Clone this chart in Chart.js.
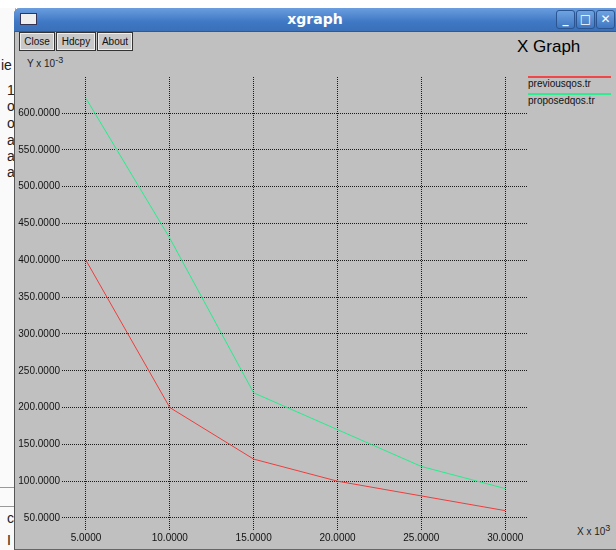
<!DOCTYPE html>
<html>
<head>
<meta charset="utf-8">
<script src="https://cdn.jsdelivr.net/npm/chart.js@4/dist/chart.umd.min.js"></script>
<style>
  html,body{margin:0;padding:0;width:616px;height:550px;overflow:hidden;background:#fff;font-family:"Liberation Sans",Arial,sans-serif;}
  #stage{position:relative;width:616px;height:550px;}
  .abs{position:absolute;}
  #bgwin{left:0;top:8px;width:15px;height:542px;background:#fafafa;border-right:1px solid #bbb;}
  .bgtxt{position:absolute;left:7px;font-size:14px;color:#222;}
  #win{left:14px;top:8px;width:602px;height:541px;background:#c0c0c0;border-left:1px solid #555;border-bottom:1px solid #666;border-top-left-radius:6px;}
  #titlebar{left:14px;top:8px;width:602px;height:23px;background:linear-gradient(#6a9ee0,#3f78c4 60%,#3a70b8);border-top-left-radius:6px;border-bottom:1px solid #2d5a96;}
  #titletext{left:14px;top:8px;width:602px;height:23px;line-height:23px;text-align:center;color:#fff;font-weight:bold;font-size:14px;font-family:"DejaVu Sans",sans-serif;}
  #icon{left:20px;top:13px;width:15px;height:10px;background:#eee;border:1px solid #335;}
  .wbtn{position:absolute;top:10px;width:17px;height:17px;border:1px solid #2a5590;border-radius:3px;background:linear-gradient(#6fa3e2,#3f77c0);color:#fff;font-weight:bold;font-size:12px;text-align:center;line-height:17px;font-family:"DejaVu Sans",sans-serif;}
  .btn{position:absolute;top:32px;height:17px;border:1px solid #333;box-shadow:inset 0 0 0 1px #eee;background:#c8c8c8;font-size:10px;line-height:17px;text-align:center;color:#111;}
  #ylab{left:27px;top:55px;font-size:10px;color:#222;}
  #xlab{left:577px;top:523px;font-size:10px;color:#222;}
  #gtitle{left:517px;top:37px;font-size:17px;color:#000;}
  .legline{position:absolute;left:528px;width:83px;height:2px;}
  .legtxt{position:absolute;left:528px;font-size:10px;color:#111;}
  canvas{position:absolute;left:0;top:0;}
</style>
</head>
<body>
<div id="stage">
  <div id="bgwin" class="abs"></div>
  <div class="bgtxt" style="top:57px;left:1px">ie</div>
  <div class="bgtxt" style="top:82px">1</div>
  <div class="bgtxt" style="top:98px">o</div>
  <div class="bgtxt" style="top:115px">o</div>
  <div class="bgtxt" style="top:132px">a</div>
  <div class="bgtxt" style="top:148px">a</div>
  <div class="bgtxt" style="top:164px">a</div>
  <div class="bgtxt" style="top:510px">c</div>
  <div class="bgtxt" style="top:532px">I</div>
  <div class="abs" style="left:0;top:487px;width:14px;height:18px;border:1px solid #999;border-left:none;"></div>
  <div id="win" class="abs"></div>
  <div id="titlebar" class="abs"></div>
  <div id="titletext" class="abs">xgraph</div>
  <div id="icon" class="abs"></div>
  <div class="wbtn" style="left:556px">_</div>
  <div class="wbtn" style="left:576px">□</div>
  <div class="wbtn" style="left:596px">✕</div>
  <div class="btn" style="left:19px;width:34px">Close</div>
  <div class="btn" style="left:56px;width:38px">Hdcpy</div>
  <div class="btn" style="left:97px;width:34px">About</div>
  <div id="ylab" class="abs">Y x 10<sup style="font-size:9px">-3</sup></div>
  <div id="xlab" class="abs">X x 10<sup style="font-size:9px">3</sup></div>
  <div id="gtitle" class="abs">X Graph</div>
  <div class="legline" style="top:76px;background:#f04848"></div>
  <div class="legtxt" style="top:78px">previousqos.tr</div>
  <div class="legline" style="top:93px;background:#30ec90"></div>
  <div class="legtxt" style="top:95px">proposedqos.tr</div>
  <canvas id="c" width="616" height="550"></canvas>
</div>
<script>
const xValues = [5, 10, 15, 20, 25, 30];
const previousQos = [400, 200, 130, 100, 80, 60];
const proposedQos = [620, 430, 220, 170, 120, 90];
const xTicks = [5, 10, 15, 20, 25, 30];
const yTicks = [50, 100, 150, 200, 250, 300, 350, 400, 450, 500, 550, 600];
const seriesNames = ['previousqos.tr', 'proposedqos.tr'];

const toPts = arr => arr.map((v, i) => ({x: xValues[i], y: v}));

new Chart(document.getElementById('c'), {
  type: 'line',
  data: {
    datasets: [
      {label: seriesNames[0], data: toPts(previousQos), borderColor: '#f03c3c', borderWidth: 1, pointRadius: 0, tension: 0, fill: false},
      {label: seriesNames[1], data: toPts(proposedQos), borderColor: '#22ee8c', borderWidth: 1, pointRadius: 0, tension: 0, fill: false}
    ]
  },
  options: {
    responsive: false,
    animation: false,
    layout: {padding: {left: 0, top: 77, right: 89, bottom: 0}},
    plugins: {legend: {display: false}, tooltip: {enabled: false}},
    scales: {
      x: {
        type: 'linear', min: 3.57, max: 31.3,
        afterBuildTicks: s => { s.ticks = xTicks.map(v => ({value: v})); },
        afterFit: s => { s.height = 20; },
        grid: {color: '#1a1a1a', lineWidth: 1, drawTicks: false},
        border: {display: false, dash: [1, 1]},
        ticks: {padding: 2, color: '#111', font: {family: 'Liberation Sans', size: 10}, maxRotation: 0, callback: v => Number(v).toFixed(4)}
      },
      y: {
        type: 'linear', min: 33.7, max: 649,
        afterBuildTicks: s => { s.ticks = yTicks.map(v => ({value: v})); },
        afterFit: s => { s.width = 62; },
        grid: {color: '#1a1a1a', lineWidth: 1, drawTicks: false},
        border: {display: false, dash: [1, 1]},
        ticks: {padding: 2, color: '#111', font: {family: 'Liberation Sans', size: 10}, callback: v => Number(v).toFixed(4)}
      }
    }
  }
});
</script>
</body>
</html>
